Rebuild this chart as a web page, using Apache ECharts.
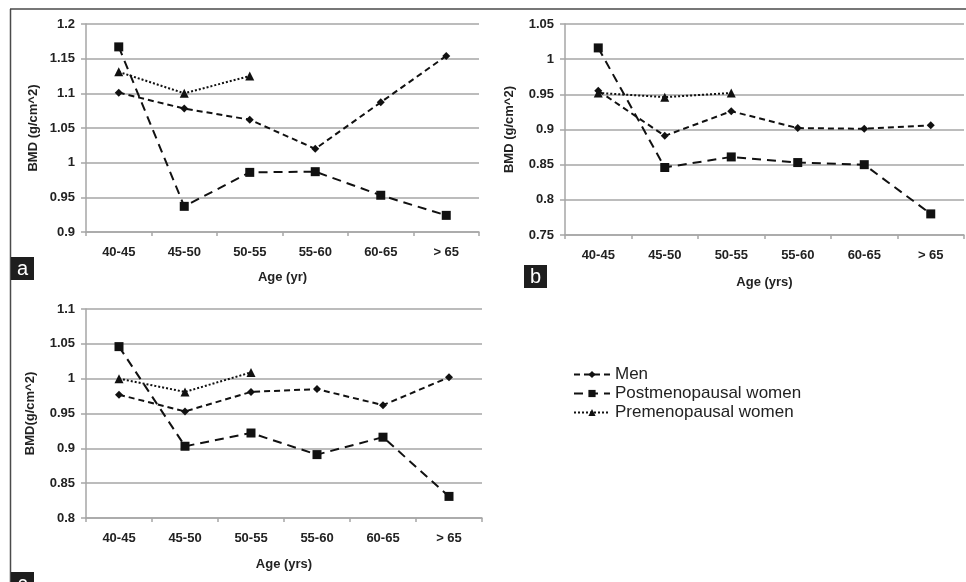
<!DOCTYPE html>
<html>
<head>
<meta charset="utf-8">
<script src="https://cdn.jsdelivr.net/npm/echarts@6/dist/echarts.min.js"></script>
<style>
html, body { margin: 0; padding: 0; background: #fff; }
#chart { width: 966px; height: 582px; }
</style>
</head>
<body>
<div id="chart"></div>
<script>
// age groups on every panel
var ageGroups = ['40-45', '45-50', '50-55', '55-60', '60-65', '> 65']

// panel a
var menA = [1.101, 1.078, 1.062, 1.020, 1.087, 1.154]
var postA = [1.167, 0.937, 0.986, 0.987, 0.953, 0.924]
var preA = [1.131, 1.100, 1.125]

// panel b
var menB = [0.955, 0.891, 0.926, 0.902, 0.901, 0.906]
var postB = [1.016, 0.846, 0.861, 0.853, 0.850, 0.780]
var preB = [0.952, 0.946, 0.952]

// panel c
var menC = [0.977, 0.953, 0.981, 0.985, 0.962, 1.002]
var postC = [1.046, 0.903, 0.922, 0.891, 0.916, 0.831]
var preC = [1.000, 0.981, 1.009]

var seriesNames = ['Men', 'Postmenopausal women', 'Premenopausal women']

var myChart = echarts.init(document.getElementById('chart'))
var fontColor = '#222'
var gridColor = '#a6a6a6'
var txt = { color: fontColor, fontWeight: 'bold', fontSize: 13, fontFamily: 'Liberation Sans' }

function makeX(idx, name, gap) {
    return {
        type: 'category',
        gridIndex: idx,
        data: ageGroups,
        name: name,
        nameLocation: 'middle',
        nameGap: gap,
        nameTextStyle: txt,
        axisLine: { lineStyle: { color: gridColor, width: 1.5 } },
        axisTick: { show: true, length: 4, lineStyle: { color: gridColor, width: 1.5 } },
        axisLabel: Object.assign({ margin: 14 }, txt)
    }
}

function makeY(idx, name, min, max, gap) {
    return {
        type: 'value',
        gridIndex: idx,
        min: min,
        max: max,
        interval: 0.05,
        name: name,
        nameLocation: 'middle',
        nameGap: gap,
        nameRotate: 90,
        nameTextStyle: txt,
        axisLine: { show: true, lineStyle: { color: gridColor, width: 1.5 } },
        axisTick: { show: true, length: 5, lineStyle: { color: gridColor, width: 1.5 } },
        axisLabel: Object.assign({ margin: 11 }, txt),
        splitLine: { show: true, lineStyle: { color: gridColor, width: 1.5 } }
    }
}

function makeSeries(idx, men, post, pre) {
    return [
        {
            name: seriesNames[0], type: 'line', xAxisIndex: idx, yAxisIndex: idx,
            data: men, symbol: 'diamond', symbolSize: 8,
            itemStyle: { color: '#111' },
            lineStyle: { color: '#111', width: 2, type: [6, 4] }
        },
        {
            name: seriesNames[1], type: 'line', xAxisIndex: idx, yAxisIndex: idx,
            data: post, symbol: 'rect', symbolSize: 9,
            itemStyle: { color: '#111' },
            lineStyle: { color: '#111', width: 2, type: [9, 6] }
        },
        {
            name: seriesNames[2], type: 'line', xAxisIndex: idx, yAxisIndex: idx,
            data: pre, symbol: 'triangle', symbolSize: 9,
            itemStyle: { color: '#111' },
            lineStyle: { color: '#111', width: 2, type: [2, 2] }
        }
    ]
}

function panelTag(x, y, letter) {
    return {
        type: 'group', left: x, top: y,
        children: [
            { type: 'rect', shape: { x: 0, y: 0, width: 23, height: 23 }, style: { fill: '#1e1e1e' } },
            { type: 'text', x: 11.5, y: 12, style: { text: letter, fill: '#fff', fontSize: 20, fontFamily: 'Liberation Sans', align: 'center', verticalAlign: 'middle' } }
        ]
    }
}

var option = {
    backgroundColor: '#fff',
    animation: false,
    grid: [
        { left: 86, top: 24, width: 393, height: 208 },
        { left: 565, top: 24, width: 399, height: 211 },
        { left: 86, top: 309, width: 396, height: 209 }
    ],
    xAxis: [
        makeX(0, 'Age (yr)', 39),
        makeX(1, 'Age (yrs)', 41),
        makeX(2, 'Age (yrs)', 40)
    ],
    yAxis: [
        makeY(0, 'BMD (g/cm^2)', 0.9, 1.2, 46),
        makeY(1, 'BMD (g/cm^2)', 0.75, 1.05, 49),
        makeY(2, 'BMD(g/cm^2)', 0.8, 1.1, 49)
    ],
    legend: {
        data: seriesNames,
        orient: 'vertical',
        left: 568,
        top: 361,
        itemWidth: 36,
        itemHeight: 9,
        itemGap: 2,
        textStyle: { color: fontColor, fontSize: 17, fontFamily: 'Liberation Sans' }
    },
    graphic: [
        { type: 'line', shape: { x1: 10, y1: 9, x2: 966, y2: 9 }, style: { stroke: '#4a4a4a', lineWidth: 1.5 } },
        { type: 'line', shape: { x1: 10.5, y1: 9, x2: 10.5, y2: 582 }, style: { stroke: '#4a4a4a', lineWidth: 1.5 } },
        panelTag(11, 257, 'a'),
        panelTag(524, 265, 'b'),
        panelTag(11, 572, 'c')
    ],
    series: [].concat(
        makeSeries(0, menA, postA, preA),
        makeSeries(1, menB, postB, preB),
        makeSeries(2, menC, postC, preC)
    )
}
myChart.setOption(option)
</script>
</body>
</html>
